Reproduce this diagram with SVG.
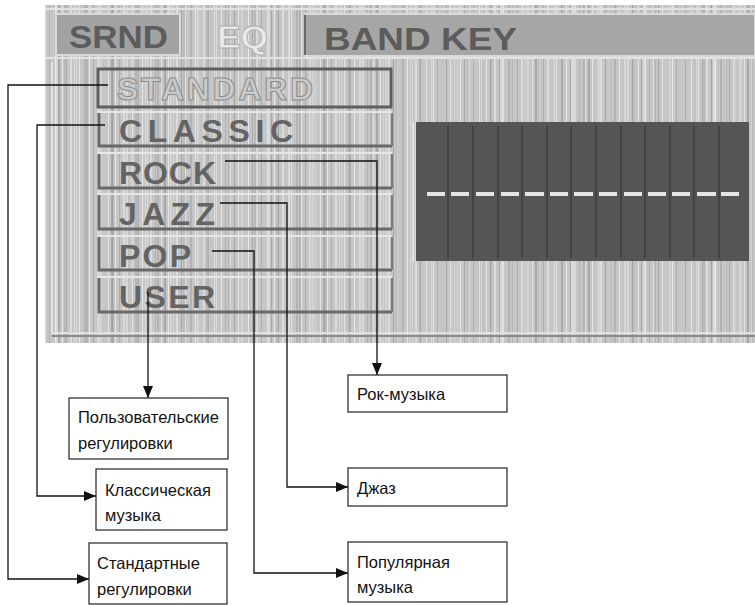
<svg xmlns="http://www.w3.org/2000/svg" width="755" height="605" viewBox="0 0 755 605">
<defs>
<pattern id="streak" x="0" y="0" width="53" height="10" patternUnits="userSpaceOnUse">
<rect width="53" height="10" fill="#c6c6c6"/>
<rect x="2" width="1" height="10" fill="#e2e2e2"/>
<rect x="5" width="2" height="10" fill="#a8a8a8"/>
<rect x="9" width="1" height="10" fill="#e6e6e6"/>
<rect x="13" width="1" height="10" fill="#afafaf"/>
<rect x="17" width="2" height="10" fill="#dcdcdc"/>
<rect x="22" width="1" height="10" fill="#a4a4a4"/>
<rect x="26" width="1" height="10" fill="#e4e4e4"/>
<rect x="31" width="2" height="10" fill="#b3b3b3"/>
<rect x="36" width="1" height="10" fill="#e8e8e8"/>
<rect x="40" width="1" height="10" fill="#ababab"/>
<rect x="44" width="2" height="10" fill="#d9d9d9"/>
<rect x="49" width="1" height="10" fill="#b0b0b0"/>
</pattern>
<pattern id="streak2" x="0" y="0" width="71" height="10" patternUnits="userSpaceOnUse">
<rect x="3" width="3" height="10" fill="#ffffff" opacity="0.35"/>
<rect x="15" width="2" height="10" fill="#7a7a7a" opacity="0.25"/>
<rect x="28" width="4" height="10" fill="#ffffff" opacity="0.25"/>
<rect x="41" width="2" height="10" fill="#808080" opacity="0.2"/>
<rect x="55" width="3" height="10" fill="#ffffff" opacity="0.3"/>
<rect x="64" width="2" height="10" fill="#808080" opacity="0.2"/>
</pattern>
<marker id="arr" viewBox="0 0 12 10" refX="12" refY="5" markerWidth="12" markerHeight="10" markerUnits="userSpaceOnUse" orient="auto">
<path d="M0,0 L12,5 L0,10 z" fill="#111"/>
</marker>
<style>
.scr{font-family:"Liberation Sans",Arial,sans-serif;font-weight:bold}
.item{fill:#646464;font-size:32px;letter-spacing:2px}
.tab{fill:#5c5c5c;font-size:31px}
.box{fill:#fff;stroke:#222;stroke-width:1.2}
.lbl{font-family:"Liberation Sans",Arial,sans-serif;font-size:16.5px;fill:#111}
.con{fill:none;stroke:#111;stroke-width:1.3}
.hi{fill:none;stroke:#e6e6e6;stroke-width:2}
.dk{fill:none;stroke:#696969;stroke-width:3}
.dash{fill:#e6e6e6}
.sep{stroke:#424242;stroke-width:2}
</style>
</defs>

<g id="screen">
<rect x="45" y="5" width="710" height="338" fill="url(#streak)"/>
<rect x="45" y="5" width="710" height="338" fill="url(#streak2)"/>
<!-- tab bar -->
<line x1="45" y1="9" x2="755" y2="9" stroke="#e2e2e2" stroke-width="2"/>
<line x1="45" y1="58" x2="755" y2="58" stroke="#e2e2e2" stroke-width="2"/>
<rect x="56" y="14" width="124" height="41" fill="#a2a2a2" stroke="#dadada" stroke-width="2"/>
<rect x="305" y="14" width="450" height="42" fill="#a6a6a6" stroke="#dadada" stroke-width="2"/>
<line x1="305" y1="15" x2="305" y2="55" stroke="#6a6a6a" stroke-width="2"/>
<text class="scr tab" x="69" y="48" textLength="99" lengthAdjust="spacingAndGlyphs">SRND</text>
<text class="scr tab" x="217" y="48" textLength="51" lengthAdjust="spacingAndGlyphs" style="fill:#e9e9e9;stroke:#b0b0b0;stroke-width:0.8">EQ</text>
<text class="scr tab" x="324" y="50" textLength="193" lengthAdjust="spacingAndGlyphs">BAND KEY</text>
<!-- panel frame -->
<path d="M52,62 V333 H755" fill="none" stroke="#e0e0e0" stroke-width="2"/>
<line x1="52" y1="336" x2="755" y2="336" stroke="#8a8a8a" stroke-width="2"/>
</g>

<g id="item-standard">
<rect x="98" y="69" width="293" height="38" fill="none" stroke="#5e5e5e" stroke-width="3"/>
<text class="scr item" x="117" y="100" style="fill:#cbcbcb;stroke:#8c8c8c;stroke-width:1" textLength="198">STANDARD</text>
</g>
<g id="item-classic">
<path class="hi" d="M98,112 H392"/>
<path class="dk" d="M99,113 V146 H392"/>
<path d="M392,113 V146" stroke="#7a7a7a" stroke-width="2"/>
<text class="scr item" x="119" y="142" textLength="176">CLASSIC</text>
</g>
<g id="item-rock">
<path class="hi" d="M98,153 H392"/>
<path class="dk" d="M99,154 V188 H392"/>
<path d="M392,154 V188" stroke="#7a7a7a" stroke-width="2"/>
<text class="scr item" x="119" y="184" textLength="99">ROCK</text>
</g>
<g id="item-jazz">
<path class="hi" d="M98,194 H392"/>
<path class="dk" d="M99,195 V229 H392"/>
<path d="M392,195 V229" stroke="#7a7a7a" stroke-width="2"/>
<text class="scr item" x="119" y="225" textLength="98">JAZZ</text>
</g>
<g id="item-pop">
<path class="hi" d="M98,236 H392"/>
<path class="dk" d="M99,237 V270 H392"/>
<path d="M392,237 V270" stroke="#7a7a7a" stroke-width="2"/>
<text class="scr item" x="119" y="267" textLength="74">POP</text>
</g>
<g id="item-user">
<path class="hi" d="M98,277 H392"/>
<path class="dk" d="M99,278 V312 H392"/>
<path d="M392,278 V312" stroke="#7a7a7a" stroke-width="2"/>
<text class="scr item" x="119" y="308" textLength="98">USER</text>
</g>

<g id="eq-display">
<line x1="413" y1="122" x2="413" y2="262" stroke="#e4e4e4" stroke-width="2"/>
<rect x="416" y="122" width="333" height="139" fill="#555555"/>
<g class="sep">
<line x1="448" y1="126" x2="448" y2="258"/><line x1="473" y1="126" x2="473" y2="258"/>
<line x1="498" y1="126" x2="498" y2="258"/><line x1="522" y1="126" x2="522" y2="258"/>
<line x1="547" y1="126" x2="547" y2="258"/><line x1="571" y1="126" x2="571" y2="258"/>
<line x1="596" y1="126" x2="596" y2="258"/><line x1="621" y1="126" x2="621" y2="258"/>
<line x1="645" y1="126" x2="645" y2="258"/><line x1="670" y1="126" x2="670" y2="258"/>
<line x1="694" y1="126" x2="694" y2="258"/><line x1="719" y1="126" x2="719" y2="258"/>
</g>
<g class="dash">
<rect x="427" y="192" width="18" height="4"/><rect x="451" y="192" width="18" height="4"/>
<rect x="476" y="192" width="18" height="4"/><rect x="501" y="192" width="18" height="4"/>
<rect x="525" y="192" width="19" height="4"/><rect x="550" y="192" width="18" height="4"/>
<rect x="574" y="192" width="19" height="4"/><rect x="599" y="192" width="18" height="4"/>
<rect x="624" y="192" width="18" height="4"/><rect x="648" y="192" width="18" height="4"/>
<rect x="672" y="192" width="18" height="4"/><rect x="697" y="192" width="19" height="4"/>
<rect x="721" y="192" width="18" height="4"/>
</g>
</g>

<g id="connectors">
<path class="con" d="M108,85 H8 V579 H89" marker-end="url(#arr)"/>
<path class="con" d="M105,125 H37 V496 H96" marker-end="url(#arr)"/>
<path class="con" d="M225,161 H377 V375" marker-end="url(#arr)"/>
<path class="con" d="M220,203 H287 V487 H348" marker-end="url(#arr)"/>
<path class="con" d="M212,251 H254 V573 H348" marker-end="url(#arr)"/>
<path class="con" d="M148,292 V398" marker-end="url(#arr)"/>
</g>

<g id="box-user">
<rect class="box" x="69" y="398" width="159" height="61"/>
<text class="lbl" x="78" y="423">Пользовательские</text>
<text class="lbl" x="78" y="449">регулировки</text>
</g>
<g id="box-classic">
<rect class="box" x="96" y="469" width="131" height="61"/>
<text class="lbl" x="105" y="496">Классическая</text>
<text class="lbl" x="105" y="521">музыка</text>
</g>
<g id="box-standard">
<rect class="box" x="89" y="543" width="138" height="61"/>
<text class="lbl" x="97" y="569">Стандартные</text>
<text class="lbl" x="97" y="595">регулировки</text>
</g>
<g id="box-rock">
<rect class="box" x="348" y="375" width="159" height="37"/>
<text class="lbl" x="357" y="400">Рок-музыка</text>
</g>
<g id="box-jazz">
<rect class="box" x="348" y="468" width="159" height="38"/>
<text class="lbl" x="357" y="494">Джаз</text>
</g>
<g id="box-pop">
<rect class="box" x="348" y="542" width="159" height="60"/>
<text class="lbl" x="357" y="568">Популярная</text>
<text class="lbl" x="357" y="593">музыка</text>
</g>
</svg>
